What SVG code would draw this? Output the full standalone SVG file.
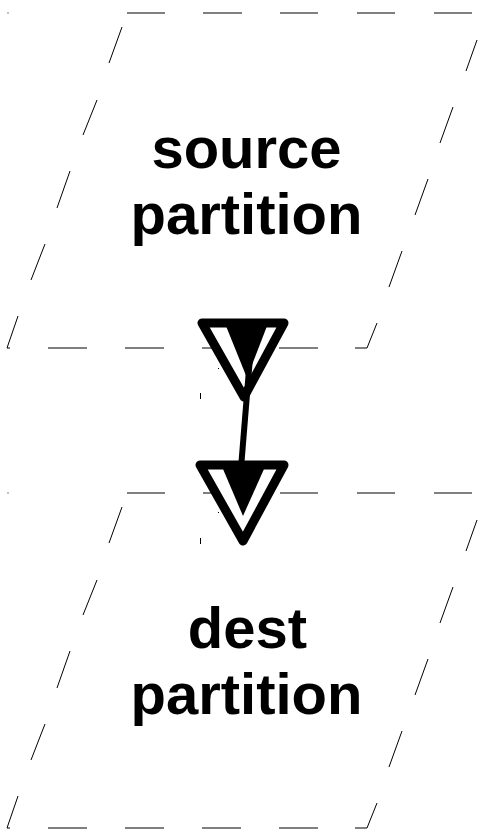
<svg xmlns="http://www.w3.org/2000/svg" width="478" height="831" viewBox="0 0 478 831">
<style>
.edge{fill:none;stroke:#000;stroke-width:1}
.lbl{font-family:"Liberation Sans",Arial,sans-serif;font-weight:bold;font-size:58px;fill:#000;text-anchor:middle}
.outer{fill:#fff;stroke:#000;stroke-width:9;stroke-linejoin:round}
.inner{fill:#000;stroke:none}
.conn{fill:none;stroke:#000;stroke-width:6}
.spk{fill:none;stroke:#000;stroke-width:1}
</style>
<rect width="478" height="831" fill="#fff"/>
<g id="source">
<path class="edge" d="M127 13H165M203 13H242M280 13H318M357 13H395M434 13H472
M477 40L466 71M453 107L440 143M428 179L415 215M402 251L389 287M377 323L367 348H355
M318 348H279M241 348H202M164 348H125M87 348H48
M10 348H7L18 316M31 280L45 244M57 208L70 171M83 135L97 100M109 63L122 27"/>
<text class="lbl" x="246.5" y="168">source</text>
<text class="lbl" x="246.5" y="234">partition</text>
</g>
<g id="dest">
<path class="edge" d="M127 493H165M203 493H242M280 493H318M357 493H395M434 493H472
M477 520L466 551M453 587L440 623M428 659L415 695M402 731L389 767M377 803L367 828H355
M318 828H279M241 828H202M164 828H125M87 828H48
M10 828H7L18 796M31 760L45 724M57 688L70 651M83 615L97 580M109 543L122 507"/>
<text class="lbl" x="247.5" y="648">dest</text>
<text class="lbl" x="246.5" y="714">partition</text>
</g>
<g id="connectors">
<polygon class="outer" points="202,323 284,323 244,397"/>
<polygon class="inner" points="226,326 267,326 247,378"/>
<path class="conn" d="M251 345L241 468"/>
<polygon class="outer" points="200,465 284,465 243,541"/>
<polygon class="inner" points="223,469 264,469 243,516"/>
</g>
<path class="spk" d="M8 12.5v1M8 492.5v1M200.5 393v6M200.5 538v6M218.5 368v1M218.5 512v1"/>
</svg>
